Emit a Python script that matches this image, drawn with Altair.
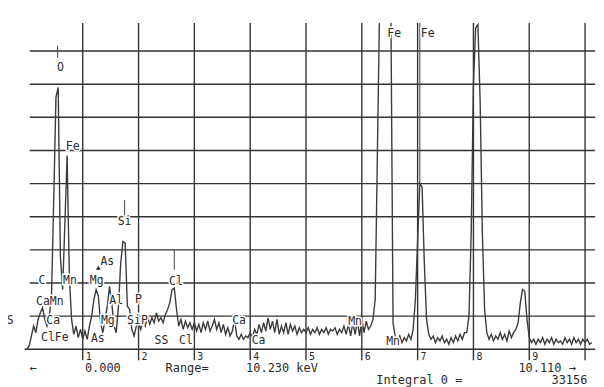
import altair as alt
import pandas as pd

# ---- spectrum counts (grid units), one value per 0.04 keV channel ----
counts = [
    # 0.00 - 0.96
    0.0, 0.1, 0.4, 0.7, 0.5, 0.9, 1.1, 1.25, 0.9, 0.7, 1.0, 1.6, 4.5, 7.6, 7.9, 2.8, 1.8, 3.8, 5.85, 2.2,
    0.9, 0.45, 0.7, 0.35, 0.6,
    # 1.00 - 1.96
    0.3, 0.55, 0.3, 0.7, 1.0, 1.5, 1.8, 1.6, 0.8, 0.5, 0.9, 1.3, 1.9, 1.4, 0.7, 0.5, 1.3, 2.6, 3.25, 3.2,
    1.3, 1.2, 0.6, 0.4, 0.7,
    # 2.00 - 2.96
    0.8, 0.6, 0.9, 0.7, 1.0, 0.75, 0.95, 0.8, 1.1, 0.85, 0.95, 0.8, 1.05, 1.2, 1.4, 1.8, 1.85, 1.2, 0.7, 0.9,
    0.6, 0.85, 0.65, 0.8, 0.6,
    # 3.00 - 3.96
    0.8, 0.55, 0.75, 0.5, 0.8, 0.6, 0.85, 0.55, 0.7, 0.9, 0.6, 0.8, 0.5, 0.75, 0.45, 0.65, 0.4, 0.55, 0.9, 0.4,
    0.3, 0.45, 0.3, 0.4, 0.35,
    # 4.00 - 4.96
    0.5, 0.35, 0.6, 0.45, 0.75, 0.5, 0.8, 0.55, 0.95, 0.6, 0.85, 0.5, 0.9, 0.45, 0.7, 0.5, 0.8, 0.45, 0.75, 0.55,
    0.7, 0.45, 0.65, 0.5, 0.6,
    # 5.00 - 5.96
    0.5, 0.65, 0.45, 0.6, 0.5, 0.65, 0.45, 0.6, 0.5, 0.65, 0.45, 0.6, 0.55, 0.65, 0.45, 0.6, 0.5, 0.7, 0.45, 0.75,
    0.4, 0.8, 0.45, 0.85, 0.4,
    # 6.00 - 6.96
    0.9, 0.5, 0.85, 0.6, 0.7, 0.9, 1.5, 6.0, 10.5, 12.0, 12.0, 12.0, 12.0, 10.5, 0.8, 0.35, 0.25, 0.4, 0.2, 0.35,
    0.25, 0.45, 0.3, 0.6, 1.5,
    # 7.00 - 7.96
    3.3, 5.0, 4.9, 2.6, 0.9, 0.45, 0.3, 0.4, 0.2, 0.35, 0.25, 0.4, 0.2, 0.3, 0.15, 0.35, 0.2, 0.4, 0.25, 0.45,
    0.3, 0.5, 0.5, 1.0, 3.5,
    # 8.00 - 8.96
    8.0, 9.7, 9.8, 7.5, 3.5, 1.2, 0.5, 0.3, 0.45, 0.25, 0.4, 0.3, 0.5, 0.3, 0.45, 0.25, 0.55, 0.35, 0.5, 0.6,
    0.8, 1.4, 1.8, 1.75, 0.9,
    # 9.00 - 9.96
    0.35, 0.2, 0.3, 0.15, 0.3, 0.2, 0.35, 0.15, 0.3, 0.2, 0.35, 0.15, 0.3, 0.2, 0.25, 0.15, 0.35, 0.2, 0.3, 0.15,
    0.35, 0.2, 0.3, 0.15, 0.3,
    # 10.00 - 10.12
    0.2, 0.3, 0.15, 0.2,
]
energy = [round(i * 0.04, 2) for i in range(len(counts))]

# ---- grid ----
kev_lines = [1, 2, 3, 4, 5, 6, 7, 8, 9, 10]
count_lines = [1, 2, 3, 4, 5, 6, 7, 8, 9]
tick_text = ["1", "2", "3", "4", "5", "6", "7", "8", "9"]
tick_kev = [1, 2, 3, 4, 5, 6, 7, 8, 9]

# ---- element labels ----
label_text = ["O", "Fe", "C", "Mn", "Mg", "As", "Si", "Cl", "CaMn", "Al", "P",
              "S", "Ca", "Mg", "SiP", "ClFe", "As", "SS", "Cl",
              "Ca", "Ca", "Mn", "Mn", "Fe", "Fe"]
label_kev = [0.60, 0.82, 0.27, 0.77, 1.25, 1.44, 1.75, 2.67, 0.41, 1.60, 2.00,
             -0.30, 0.47, 1.45, 1.98, 0.50, 1.27, 2.41, 2.85,
             3.80, 4.15, 5.88, 6.56, 6.58, 7.18]
label_cnt = [8.50, 6.10, 2.05, 2.05, 2.05, 2.64, 3.84, 2.02, 1.43, 1.46, 1.50,
             0.86, 0.86, 0.84, 0.84, 0.33, 0.30, 0.24, 0.24,
             0.84, 0.24, 0.81, 0.21, 9.52, 9.52]

# marker lines above labels
marker_kev = [0.55, 1.75, 2.64, 2.00, 7.04]
marker_lo = [8.80, 3.96, 2.40, 1.65, 5.00]
marker_hi = [9.16, 4.50, 3.00, 2.90, 9.85]

# footer texts
foot_text = ["←", "0.000", "Range=", "10.230 keV", "10.110 →", "Integral 0  =", "33156"]
foot_kev = [0.11, 1.36, 2.87, 4.57, 9.32, 7.03, 9.72]
foot_cnt = [-0.58, -0.58, -0.58, -0.58, -0.58, -0.94, -0.94]

xs = alt.Scale(domain=[-0.143, 10.196], nice=False, zero=False)
ys = alt.Scale(domain=[-0.36, 9.85], nice=False, zero=False)
INK = "#2b2b2b"
FONT = "DejaVu Sans Mono"

spec_df = pd.DataFrame({"E": energy, "v": counts})
vgrid_df = pd.DataFrame({"E": kev_lines, "lo": [-0.33] * len(kev_lines), "hi": [9.85] * len(kev_lines)})
hgrid_df = pd.DataFrame({"v": count_lines, "x0": [0.05] * len(count_lines), "x1": [10.18] * len(count_lines)})
tick_df = pd.DataFrame({"E": tick_kev, "v": [-0.24] * len(tick_kev), "t": tick_text})
lab_df = pd.DataFrame({"E": label_kev, "v": label_cnt, "t": label_text})
mark_df = pd.DataFrame({"E": marker_kev, "lo": marker_lo, "hi": marker_hi})
foot_df = pd.DataFrame({"E": foot_kev, "v": foot_cnt, "t": foot_text})
base_df = pd.DataFrame({"x0": [-0.04], "x1": [10.18], "v": [0]})
arrow_df = pd.DataFrame({"E": [1.28], "v": [2.46]})


def X(f):
    return alt.X(f, type="quantitative", scale=xs, axis=None)


def Y(f):
    return alt.Y(f, type="quantitative", scale=ys, axis=None)


vgrid = alt.Chart(vgrid_df).mark_rule(color="#333333", strokeWidth=1.4).encode(
    x=X("E"), y=Y("lo"), y2="hi")
hgrid = alt.Chart(hgrid_df).mark_rule(color="#333333", strokeWidth=1.4).encode(
    y=Y("v"), x=X("x0"), x2="x1")
base = alt.Chart(base_df).mark_rule(color="#2e2e2e", strokeWidth=1.7).encode(
    y=Y("v"), x=X("x0"), x2="x1")

spectrum = alt.Chart(spec_df).mark_line(clip=True, color="#3c3c3c", strokeWidth=1.4).encode(
    x=X("E"), y=Y("v"))

markers = alt.Chart(mark_df).mark_rule(color="#444444", strokeWidth=1).encode(
    x=X("E"), y=Y("lo"), y2="hi")

arrow = alt.Chart(arrow_df).mark_point(
    shape="triangle-up", filled=True, size=22, color="#222222", opacity=1).encode(x=X("E"), y=Y("v"))

halo = alt.Chart(lab_df).mark_text(font=FONT, fontSize=11.5, color="white", stroke="white",
                                   strokeWidth=3, align="center", baseline="middle").encode(
    x=X("E"), y=Y("v"), text="t:N")
labels = alt.Chart(lab_df).mark_text(font=FONT, fontSize=11.5, color=INK,
                                     align="center", baseline="middle").encode(
    x=X("E"), y=Y("v"), text="t:N")

ticks = alt.Chart(tick_df).mark_text(font=FONT, fontSize=10, color=INK, align="left",
                                     baseline="middle", dx=3).encode(
    x=X("E"), y=Y("v"), text="t:N")

foot = alt.Chart(foot_df).mark_text(font=FONT, fontSize=12, color=INK, align="center",
                                    baseline="middle").encode(
    x=X("E"), y=Y("v"), text="t:N")

chart = alt.layer(vgrid, hgrid, base, spectrum, markers, arrow, halo, labels, ticks, foot).properties(
    width=580, height=340,
    padding={"left": 11, "top": 14, "right": 0, "bottom": 25},
    autosize=alt.AutoSizeParams(type="none"),
    background="white",
).configure_view(stroke=None)

chart.save("out.html", embed_options={"renderer": "svg", "actions": False})
